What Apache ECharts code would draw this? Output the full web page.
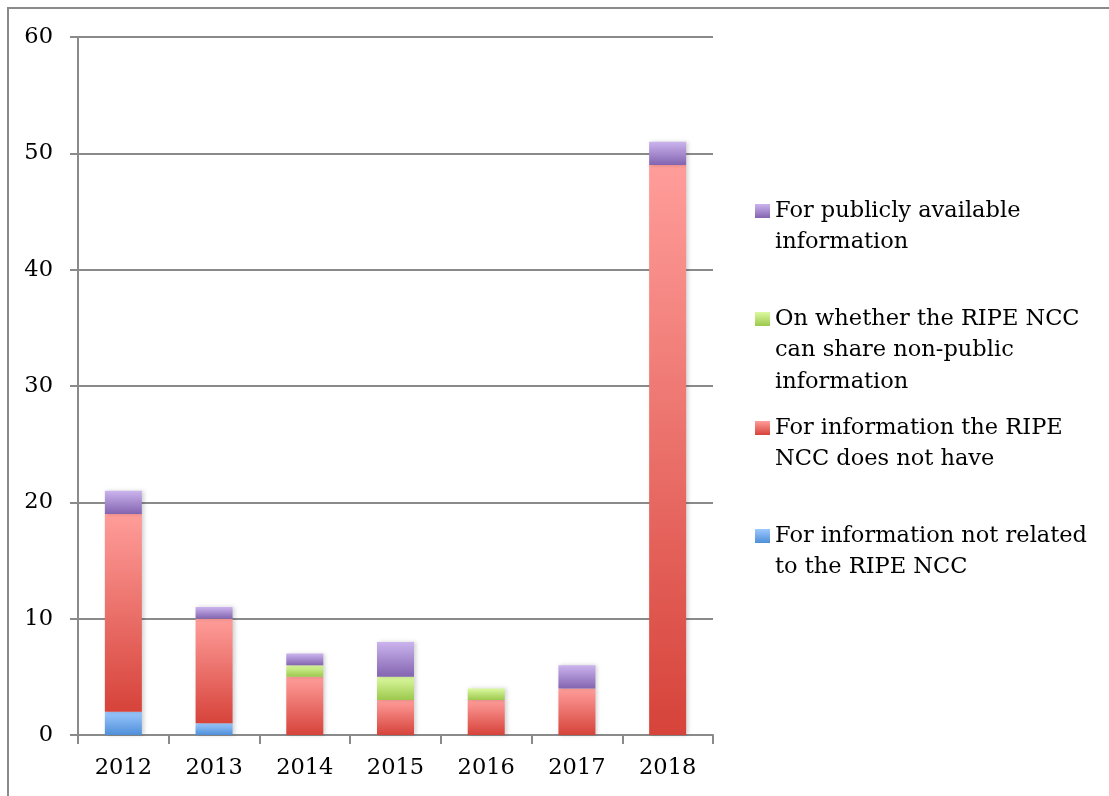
<!DOCTYPE html>
<html>
<head>
<meta charset="utf-8">
<script src="https://cdn.jsdelivr.net/npm/echarts@6/dist/echarts.min.js"></script>
<style>
    html, body { margin: 0; padding: 0; background: #fff; }
    #frame {
        position: absolute; left: 7px; top: 7px; width: 1102px; height: 789px;
        border-left: 2px solid #8a8a8a; border-top: 2px solid #8a8a8a;
    }
    #chart { position: absolute; left: 0; top: 0; width: 1109px; height: 796px; }
</style>
</head>
<body>
<div id="frame"></div>
<div id="chart"></div>
<script>
var years = ['2012', '2013', '2014', '2015', '2016', '2017', '2018'];
var notRelated = [2, 1, 0, 0, 0, 0, 0];
var notHave = [17, 9, 5, 3, 3, 4, 49];
var canShare = [0, 0, 1, 2, 1, 0, 0];
var publicInfo = [2, 1, 1, 3, 0, 2, 2];
var yTicks = [0, 10, 20, 30, 40, 50, 60];

var names = [
    'For information not related\nto the RIPE NCC',
    'For information the RIPE\nNCC does not have',
    'On whether the RIPE NCC\ncan share non-public\ninformation',
    'For publicly available\ninformation'
];

window.addEventListener('load', initChart);

function grad(top, bottom) {
    return {
        type: 'linear', x: 0, y: 0, x2: 0, y2: 1,
        colorStops: [{ offset: 0, color: top }, { offset: 1, color: bottom }]
    };
}

function initChart() {
    var chart = echarts.init(document.getElementById('chart'));
    var font = 'DejaVu Serif';
    var fs = 22.5;
    var lh = 31.5;

    var colors = [
        grad('#9cc8ff', '#4f8fd8'),
        grad('#ff9d9a', '#d6433a'),
        grad('#dcfaa0', '#9cc84c'),
        grad('#cbb4ee', '#8364b0')
    ];
    var data = [notRelated, notHave, canShare, publicInfo];

    // one legend per entry; blank lines in front keep the icon on the first line
    var iconY = [536, 428, 319, 211];
    var legends = names.map(function (n, i) {
        var lines = n.split('\n').length;
        var pad = '';
        for (var k = 1; k < lines; k++) pad += '\n';
        return {
            orient: 'vertical',
            left: 755,
            top: iconY[i] - (2 * lines - 1) * lh / 2,
            padding: 0,
            itemWidth: 15,
            itemHeight: 14,
            icon: 'rect',
            selectedMode: false,
            data: [n],
            formatter: function (name) { return pad + name; },
            textStyle: {
                fontFamily: font, fontSize: fs, color: '#000', lineHeight: lh
            }
        };
    });

    var series = names.map(function (n, i) {
        return {
            name: n,
            type: 'bar',
            stack: 'total',
            barWidth: 37,
            itemStyle: {
                color: colors[i],
                shadowColor: 'rgba(0,0,0,0.18)',
                shadowBlur: 4,
                shadowOffsetX: 2
            },
            emphasis: { disabled: true },
            data: data[i]
        };
    });

    var option = {
        animation: false,
        legend: legends,
        grid: { left: 78, right: 396, top: 37, bottom: 61 },
        xAxis: {
            type: 'category',
            data: years,
            axisLine: { lineStyle: { color: '#8a8a8a', width: 2 } },
            axisTick: { show: true, length: 9, lineStyle: { color: '#8a8a8a', width: 2 } },
            axisLabel: { margin: 22, fontFamily: font, fontSize: fs, color: '#000' }
        },
        yAxis: {
            type: 'value',
            min: yTicks[0],
            max: yTicks[yTicks.length - 1],
            interval: 10,
            axisLine: { show: true, lineStyle: { color: '#8a8a8a', width: 2 } },
            axisTick: { show: true, length: 8, lineStyle: { color: '#8a8a8a', width: 2 } },
            splitLine: { lineStyle: { color: '#8a8a8a', width: 2 } },
            axisLabel: { margin: 25, fontFamily: font, fontSize: fs, color: '#000' }
        },
        series: series
    };

    chart.setOption(option);
}
</script>
</body>
</html>
